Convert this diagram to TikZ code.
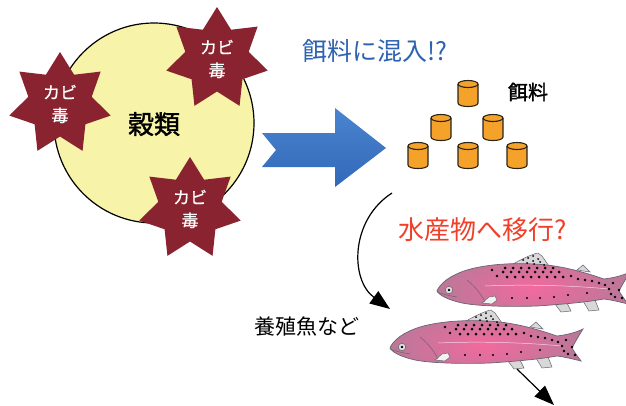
\documentclass[tikz,border=0pt]{standalone}
\usepackage{fontspec}
\newfontfamily\jp{Noto Sans CJK JP}
\newfontfamily\jpsb[FakeBold=1.6]{Noto Sans CJK JP}
\newfontfamily\jpmd[FakeBold=0.8]{Noto Sans CJK JP}
\usetikzlibrary{shapes.geometric,arrows.meta}

\definecolor{grainfill}{HTML}{F7F3A8}
\definecolor{toxred}{HTML}{8A2330}
\definecolor{arrowblue}{HTML}{4A84D0}
\definecolor{arrowbluedark}{HTML}{3268B8}
\definecolor{titleblue}{HTML}{2E62B0}
\definecolor{transred}{HTML}{F0402A}
\definecolor{pelletfill}{HTML}{F4A22A}
\definecolor{pelletline}{HTML}{2B2418}
\definecolor{fishedge}{HTML}{B27A98}
\definecolor{fishmid}{HTML}{F26A9E}
\definecolor{finfill}{HTML}{D8D8D8}
\definecolor{fishline}{HTML}{6A6470}

\begin{document}
\begin{tikzpicture}[x=1pt,y=-1pt,
  toxin/.style={star, star points=7, star point ratio=1.6, fill=toxred,
    minimum size=104pt, inner sep=0pt, text=white, align=center,
    font=\jpmd\fontsize{17}{23}\selectfont},
  bigtip/.style={-{Triangle[length=20pt,width=15pt]}, line width=1.2pt},
  fishbody/.style={insert path={
    (0,0) .. controls (3,-8) and (14,-16) .. (30,-21)
    .. controls (50,-27) and (80,-29) .. (110,-26)
    .. controls (135,-23) and (155,-16) .. (167,-12)
    .. controls (175,-13) and (185,-15) .. (193,-19)
    .. controls (188,-11) and (184,-4) .. (182,0)
    .. controls (185,5) and (188,9) .. (191,13)
    .. controls (183,11) and (175,9) .. (167,8)
    .. controls (150,11) and (130,13) .. (100,15)
    .. controls (70,16) and (40,15) .. (25,12)
    .. controls (12,9) and (3,5) .. (0,0) -- cycle}},
  pellet/.pic={
    \draw[pelletline, line width=1.1pt, fill=pelletfill]
      (-10,-9) -- (-10,10) .. controls (-10,14.7) and (10,14.7) .. (10,10) -- (10,-9);
    \draw[pelletline, line width=1.1pt, fill=pelletfill]
      (0,-9) ellipse [x radius=10, y radius=3.5];
  },
  trout/.pic={
    % fins behind the body
    \draw[fishline, line width=0.5pt, fill=finfill]
      (76,-27) .. controls (85,-32) and (95,-37) .. (101,-38) -- (105,-35) -- (112,-25) -- cycle;
    \draw[fishline, line width=0.5pt, fill=finfill]
      (140,-21) -- (146,-26) -- (153,-19) -- cycle;
    \draw[fishline, line width=0.5pt, fill=finfill]
      (118,13) -- (124,21) -- (134,20) -- (130,12) -- cycle;
    \draw[fishline, line width=0.5pt, fill=finfill]
      (146,10) -- (152,20) -- (162,19) -- (158,9) -- cycle;
    % body, pink in the middle and mauve towards the head and tail
    \begin{scope}
      \clip[fishbody];
      \shade[inner color=fishmid, outer color=fishedge] (-15,-46) rectangle (205,40);
    \end{scope}
    \draw[fishline, line width=0.7pt, fishbody];
    % lateral line
    \draw[white!70!fishmid, line width=0.5pt] (48,-5) .. controls (95,-7) and (140,-5) .. (172,-2);
    % dorsal fin spots
    \foreach \px/\py in {86/-31,91/-33,96/-35,90/-28,96/-30,101/-32,97/-27,103/-29,107/-26}
      \fill[black] (\px,\py) circle[radius=1];
    % pectoral fin
    \draw[fishline, line width=0.5pt, fill=white!90!gray]
      (45,12) -- (52,6) -- (58,5) -- (60,9) -- (55,13) -- cycle;
    % gill line and mouth
    \draw[fishline, line width=0.5pt] (30,-11) .. controls (40,-3) and (45,5) .. (48,11);
    \draw[fishline, line width=0.5pt] (0,1) .. controls (8,4) and (14,5) .. (20,6);
    % eye
    \draw[fishline, line width=0.6pt, fill=white!75!gray] (12,-1) circle[radius=3.8];
    \fill[black] (12,-1) circle[radius=1.4];
    % body spots
    \foreach \px in {68,76,...,116}
      \fill[black] (\px,-23) circle[radius=1.5];
    \foreach \px in {66,74,...,122}
      \fill[black] (\px,-19) circle[radius=1.5];
    \foreach \px in {70,78,...,126}
      \fill[black] (\px,-14) circle[radius=1.5];
    \foreach \px/\py in {55/-21,60/-15,134/-15,141/-12,148/-11,155/-10,162/-8,
                         168/-6,172/-2,176/-8,174/3,178/6,182/-1,185/7}
      \fill[black] (\px,\py) circle[radius=1.3];
    \foreach \px/\py in {75/7,90/7,103/7,117/6,131/4,150/2}
      \fill[black] (\px,\py) circle[radius=1.1];
  }
]
\useasboundingbox (0,0) rectangle (626,405);

% grain with mycotoxins
\draw[line width=1.2pt, fill=grainfill] (154,123) circle[radius=100];
\node[font=\jpsb\fontsize{26}{26}\selectfont] (grain) at (154,124) {穀類};
\node[toxin] (tox1) at (60,104) {カビ\\毒};
\node[toxin] (tox2) at (217,59) {カビ\\毒};
\node[toxin] (tox3) at (190,209) {カビ\\毒};

% notched block arrow towards the feed
\shade[top color=arrowblue, bottom color=arrowbluedark]
  (262,133) -- (335,133) -- (335,108) -- (386,148) -- (335,187) -- (335,167)
  -- (262,167) -- (276,150) -- cycle;

\node[text=titleblue, font=\jp\fontsize{25}{25}\selectfont] (mix) at (375,51) {餌料に混入!?};

% feed pellets
\pic at (468,93) {pellet};
\pic at (441,127) {pellet};
\pic at (493,127) {pellet};
\pic at (418,155) {pellet};
\pic at (468,155) {pellet};
\pic at (517,155) {pellet};
\node[font=\jpsb\fontsize{20}{20}\selectfont] (feed) at (528,92) {餌料};

% transfer to farmed fish
\node[text=transred, font=\jp\fontsize{26}{26}\selectfont] (transfer) at (483,230) {水産物へ移行?};
\node[font=\jp\fontsize{21}{21}\selectfont] (farmed) at (307,327) {養殖魚など};

\pic at (437,291) {trout};
\pic at (390,348) {trout};

\coordinate (feedout) at (392,193);
\coordinate (fishin) at (390,309);
\coordinate (fishout) at (517,369);
\coordinate (consumer) at (554,405);
\draw[bigtip] (feedout) .. controls (350,220) and (350,280) .. (fishin);
\draw[bigtip] (fishout) -- (consumer);
\end{tikzpicture}
\end{document}
